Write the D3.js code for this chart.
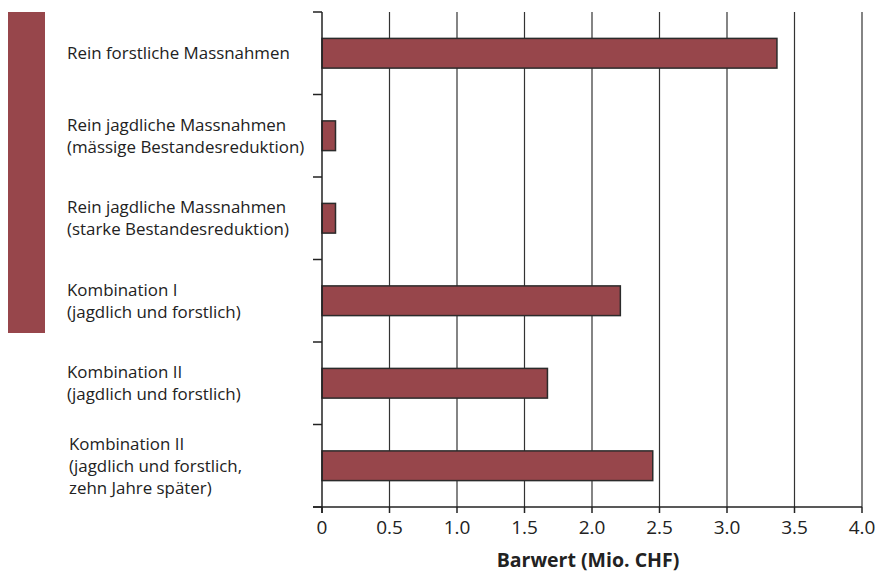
<!DOCTYPE html>
<html><head><meta charset="utf-8">
<script src="https://cdn.jsdelivr.net/npm/d3@7"></script>
<style>body{margin:0;background:#fff;} text{font-family:"Open Sans","Noto Sans",sans-serif;fill:#222;}</style>
</head><body>
<svg id="c" width="880" height="575"></svg>
<script>
const categories = [
  ["Rein forstliche Massnahmen"],
  ["Rein jagdliche Massnahmen","(mässige Bestandesreduktion)"],
  ["Rein jagdliche Massnahmen","(starke Bestandesreduktion)"],
  ["Kombination I","(jagdlich und forstlich)"],
  ["Kombination II","(jagdlich und forstlich)"],
  ["Kombination II","(jagdlich und forstlich,","zehn Jahre später)"]
];
const values = [3.37, 0.1, 0.1, 2.21, 1.67, 2.45];
const xTicks = [0,0.5,1,1.5,2,2.5,3,3.5,4];
const xTickLabels = ["0","0.5","1.0","1.5","2.0","2.5","3.0","3.5","4.0"];
const axisTitle = "Barwert (Mio. CHF)";

const svg = d3.select("#c");
const m = {l:322, r:862, t:12, b:507};
const x = d3.scaleLinear().domain([0,4]).range([m.l,m.r]);
const y = d3.scaleBand().domain(d3.range(categories.length)).range([m.t,m.b]).paddingInner(0.64).paddingOuter(0.32);
const yb = d3.scaleLinear().domain([0,categories.length]).range([m.t,m.b]);

// left decorative bar
svg.append("rect").attr("x",8).attr("y",12).attr("width",37).attr("height",321).attr("fill","#97464b");

// gridlines
svg.append("g").selectAll("line").data(xTicks.slice(1)).join("line")
  .attr("x1",d=>x(d)).attr("x2",d=>x(d)).attr("y1",m.t).attr("y2",m.b)
  .attr("stroke","#333").attr("stroke-width",1.2);

// bars
svg.append("g").selectAll("rect").data(values).join("rect")
  .attr("x",x(0)).attr("y",(d,i)=>y(i)).attr("width",d=>x(d)-x(0)).attr("height",y.bandwidth())
  .attr("fill","#97464b").attr("stroke","#2b2b2b").attr("stroke-width",1.5);

// y axis
svg.append("line").attr("x1",m.l).attr("x2",m.l).attr("y1",m.t).attr("y2",m.b+6).attr("stroke","#222").attr("stroke-width",1.5);
svg.append("g").selectAll("line").data(d3.range(categories.length+1)).join("line")
  .attr("x1",m.l-9).attr("x2",m.l).attr("y1",d=>yb(d)).attr("y2",d=>yb(d)).attr("stroke","#222").attr("stroke-width",1.5);

// x axis
svg.append("line").attr("x1",m.l-9).attr("x2",m.r).attr("y1",m.b).attr("y2",m.b).attr("stroke","#222").attr("stroke-width",1.5);
svg.append("g").selectAll("line").data(xTicks).join("line")
  .attr("x1",d=>x(d)).attr("x2",d=>x(d)).attr("y1",m.b).attr("y2",m.b+6).attr("stroke","#222").attr("stroke-width",1.5);
svg.append("g").selectAll("text").data(xTicks).join("text")
  .attr("x",d=>x(d)).attr("y",534).attr("text-anchor","middle").attr("font-size",19)
  .text((d,i)=>xTickLabels[i]);
svg.append("text").attr("x",588).attr("y",567).attr("text-anchor","middle").attr("font-size",19.5).attr("font-weight","bold").text(axisTitle);

// category labels
const lh = 22;
categories.forEach((lines,i)=>{
  const cy = y(i)+y.bandwidth()/2;
  const n = lines.length;
  const t = svg.append("text").attr("font-size",16.9).attr("x", i===5?69:67);
  lines.forEach((s,j)=>{
    t.append("tspan").attr("x", i===5?69:67).attr("y", cy + (j-(n-1)/2)*lh + 6).text(s);
  });
});
</script>
</body></html>
